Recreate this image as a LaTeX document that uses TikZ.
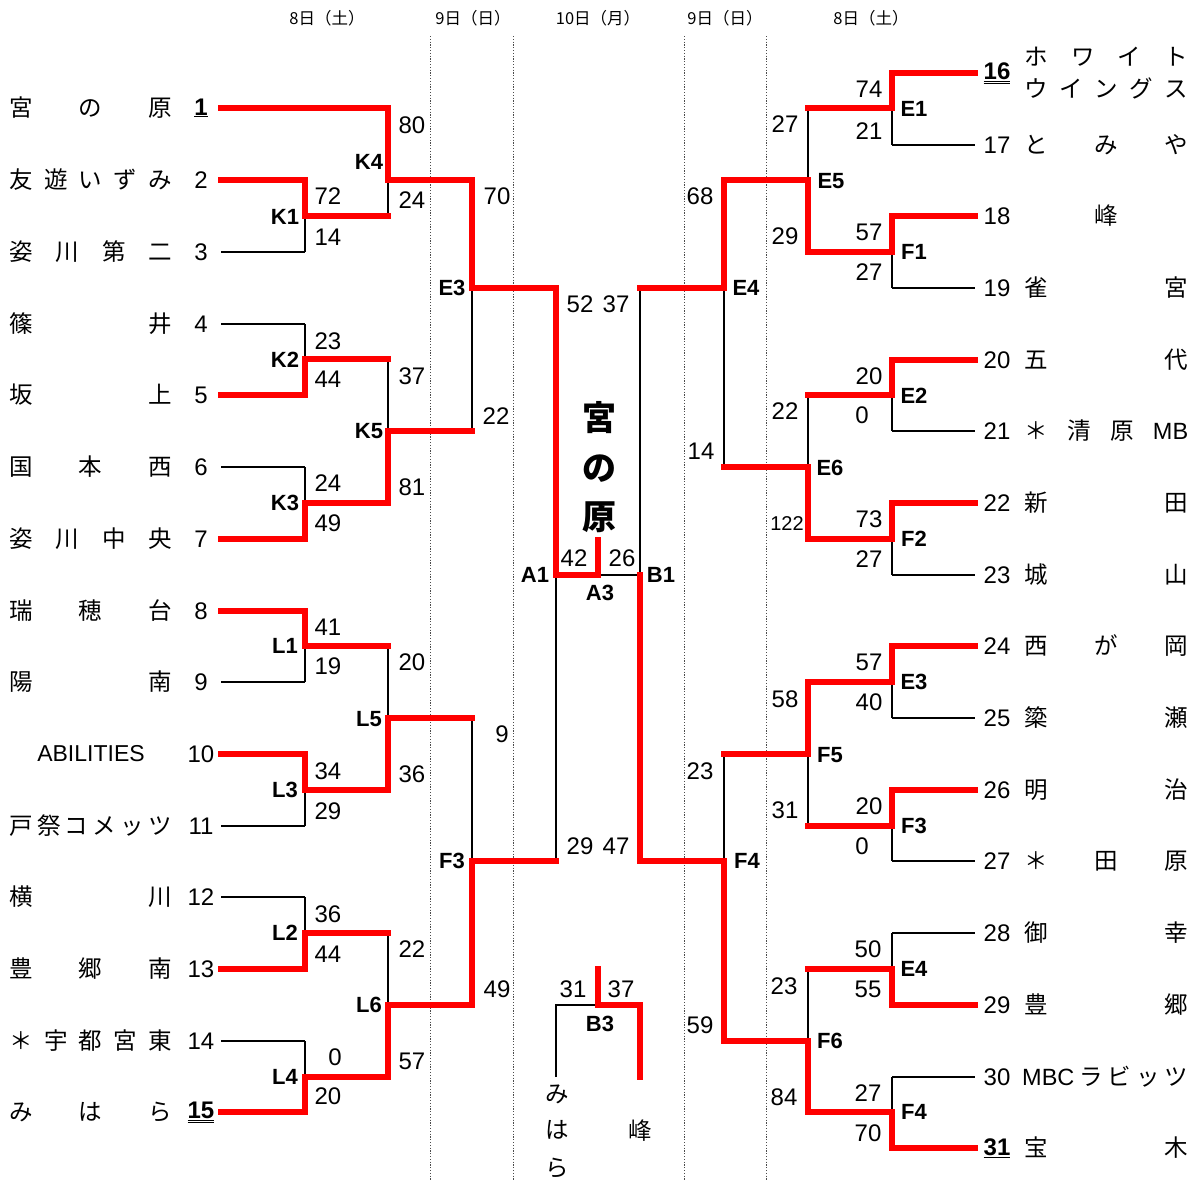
\documentclass[tikz,border=0pt]{standalone}
\usepackage{fontspec}
\setmainfont{Noto Sans CJK JP}
\newfontfamily\numf{Liberation Sans}
\begin{document}
\begin{tikzpicture}[x=1pt,y=-1pt,
  blk/.style={line width=2.5pt, black},
  win/.style={line width=5.5pt, red, line join=miter, line cap=rect},
  dotl/.style={line width=0.9pt, black!70, dash pattern=on 1.2pt off 1.6pt},
  sc/.style={font=\numf\fontsize{24}{24}\selectfont, inner sep=0pt},
  smsc/.style={font=\numf\fontsize{20}{20}\selectfont, inner sep=0pt},
  lb/.style={font=\numf\bfseries\fontsize{22}{22}\selectfont, inner sep=0pt},
  tn/.style={font=\fontsize{23.5}{23.5}\selectfont, inner sep=0pt},
  lat/.style={font=\numf\fontsize{23}{23}\selectfont, inner sep=0pt},
  hd/.style={font=\fontsize{16.5}{16.5}\selectfont, inner sep=0pt},
  big/.style={font=\bfseries\fontsize{34}{34}\selectfont, inner sep=0pt},
]
\useasboundingbox (0,0) rectangle (1195,1181);
\newcommand\lteam[3]{\node[tn,anchor=west] (lt#1) at (9,#2) {\hbox to 163pt{#3}};}
\newcommand\rteam[3]{\node[tn,anchor=west] (rt#1) at (1024,#2) {\hbox to 164pt{#3}};}
\newcommand\lnum[3]{\node[sc] (ln#1) at (201,#2) {#3};}
\newcommand\rnum[3]{\node[sc] (rn#1) at (997,#2) {#3};}

% headers
\node[hd] (h1) at (327,18) {8日（土）};
\node[hd] (h2) at (473,18) {9日（日）};
\node[hd] (h3) at (598,18) {10日（月）};
\node[hd] (h4) at (725,18) {9日（日）};
\node[hd] (h5) at (871,18) {8日（土）};

% dotted separators
\foreach \xx in {430,513,684,766} \draw[dotl] (\xx,36) -- (\xx,1181);

% ---------------- black bracket ----------------
\foreach \yy in {180,252,324,395,467,539,611,682,754,826,897,969,1041,1112}
  \draw[blk] (221,\yy) -- (305,\yy);
\draw[blk] (221,108) -- (388,108);
\foreach \a/\b in {180/252,324/395,467/539,611/682,754/826,897/969,1041/1112}{
  \draw[blk] (305,\a) -- (305,\b);
  \draw[blk] (305,{(\a+\b)/2}) -- (388,{(\a+\b)/2});
}
\draw[blk] (388,108) -- (388,216); \draw[blk] (388,180) -- (472,180);
\draw[blk] (388,359) -- (388,503); \draw[blk] (388,431) -- (472,431);
\draw[blk] (388,646) -- (388,790); \draw[blk] (388,718) -- (472,718);
\draw[blk] (388,933) -- (388,1077); \draw[blk] (388,1005) -- (472,1005);
\draw[blk] (472,180) -- (472,431); \draw[blk] (472,288) -- (556,288);
\draw[blk] (472,718) -- (472,1005); \draw[blk] (472,861) -- (556,861);
\draw[blk] (556,288) -- (556,861); \draw[blk] (556,575) -- (640,575);
\draw[blk] (640,288) -- (640,861);
% right
\foreach \yy in {73,145,216,288,360,431,503,575,646,718,790,861,933,1005,1077,1148}
  \draw[blk] (892,\yy) -- (975,\yy);
\foreach \a/\b in {73/145,216/288,360/431,503/575,646/718,790/861,933/1005,1077/1148}{
  \draw[blk] (892,\a) -- (892,\b);
  \draw[blk] (892,{(\a+\b)/2}) -- (808,{(\a+\b)/2});
}
\draw[blk] (808,108) -- (808,252); \draw[blk] (808,180) -- (724,180);
\draw[blk] (808,395) -- (808,539); \draw[blk] (808,467) -- (724,467);
\draw[blk] (808,682) -- (808,826); \draw[blk] (808,754) -- (724,754);
\draw[blk] (808,969) -- (808,1112); \draw[blk] (808,1041) -- (724,1041);
\draw[blk] (724,180) -- (724,467); \draw[blk] (724,288) -- (640,288);
\draw[blk] (724,754) -- (724,1041); \draw[blk] (724,861) -- (640,861);
% third place
\draw[blk] (556,1077) -- (556,1005) -- (640,1005) -- (640,1077);

% ---------------- winners (red) ----------------
\draw[win] (221,108) -| (388,180) -| (472,288) -| (556,575) -| (598,540);
\draw[win] (221,180) -| (305,216) -- (388,216);
\draw[win] (221,395) -| (305,359) -- (388,359);
\draw[win] (221,539) -| (305,503) -| (388,431) -- (472,431);
\draw[win] (221,611) -| (305,646) -- (388,646);
\draw[win] (221,754) -| (305,790) -| (388,718) -- (472,718);
\draw[win] (221,969) -| (305,933) -- (388,933);
\draw[win] (221,1112) -| (305,1077) -| (388,1005) -| (472,861) -- (556,861);
\draw[win] (975,73) -| (892,108) -- (808,108);
\draw[win] (975,216) -| (892,252) -| (808,180) -| (724,288) -- (640,288);
\draw[win] (975,360) -| (892,395) -- (808,395);
\draw[win] (975,503) -| (892,539) -| (808,467) -- (724,467);
\draw[win] (975,646) -| (892,682) -| (808,754) -- (724,754);
\draw[win] (975,790) -| (892,826) -- (808,826);
\draw[win] (975,1005) -| (892,969) -- (808,969);
\draw[win] (975,1148) -| (892,1112) -| (808,1041) -| (724,861) -| (640,575);
\draw[win] (598,969) |- (640,1005) -- (640,1077);

% ---------------- left teams ----------------
\lteam{1}{108}{宮\hfill の\hfill 原}
\lteam{2}{180}{友\hfill 遊\hfill い\hfill ず\hfill み}
\lteam{3}{252}{姿\hfill 川\hfill 第\hfill 二}
\lteam{4}{324}{篠\hfill 井}
\lteam{5}{395}{坂\hfill 上}
\lteam{6}{467}{国\hfill 本\hfill 西}
\lteam{7}{539}{姿\hfill 川\hfill 中\hfill 央}
\lteam{8}{611}{瑞\hfill 穂\hfill 台}
\lteam{9}{682}{陽\hfill 南}
\node[lat] (lt10) at (91,754) {ABILITIES};
\lteam{11}{826}{戸\hfill 祭\hfill コ\hfill メ\hfill ッ\hfill ツ}
\lteam{12}{897}{横\hfill 川}
\lteam{13}{969}{豊\hfill 郷\hfill 南}
\lteam{14}{1041}{＊\hfill 宇\hfill 都\hfill 宮\hfill 東}
\lteam{15}{1112}{み\hfill は\hfill ら}
\lnum{1}{108}{\bfseries\underline{1}}
\lnum{2}{180}{2} \lnum{3}{252}{3} \lnum{4}{324}{4} \lnum{5}{395}{5}
\lnum{6}{467}{6} \lnum{7}{539}{7} \lnum{8}{611}{8} \lnum{9}{682}{9}
\lnum{10}{754}{10} \lnum{11}{826}{11} \lnum{12}{897}{12} \lnum{13}{969}{13}
\lnum{14}{1041}{14}
\lnum{15}{1112}{\bfseries\underline{\underline{15}}}

% ---------------- right teams ----------------
\rteam{16a}{57}{ホ\hfill ワ\hfill イ\hfill ト}
\rteam{16b}{88}{ウ\hfill イ\hfill ン\hfill グ\hfill ス}
\rteam{17}{145}{と\hfill み\hfill や}
\rteam{18}{216}{\hfill 峰\hfill}
\rteam{19}{288}{雀\hfill 宮}
\rteam{20}{360}{五\hfill 代}
\rteam{21}{431}{＊\hfill 清\hfill 原\hfill {\numf MB}}
\rteam{22}{503}{新\hfill 田}
\rteam{23}{575}{城\hfill 山}
\rteam{24}{646}{西\hfill が\hfill 岡}
\rteam{25}{718}{簗\hfill 瀬}
\rteam{26}{790}{明\hfill 治}
\rteam{27}{861}{＊\hfill 田\hfill 原}
\rteam{28}{933}{御\hfill 幸}
\rteam{29}{1005}{豊\hfill 郷}
\node[tn,anchor=west] (rt30) at (1022,1077) {\hbox to 166pt{{\numf MBC}\hfill ラ\hfill ビ\hfill ッ\hfill ツ}};
\rteam{31}{1148}{宝\hfill 木}
\rnum{16}{73}{\bfseries\underline{\underline{16}}}
\rnum{17}{145}{17} \rnum{18}{216}{18} \rnum{19}{288}{19} \rnum{20}{360}{20}
\rnum{21}{431}{21} \rnum{22}{503}{22} \rnum{23}{575}{23} \rnum{24}{646}{24}
\rnum{25}{718}{25} \rnum{26}{790}{26} \rnum{27}{861}{27} \rnum{28}{933}{28}
\rnum{29}{1005}{29} \rnum{30}{1077}{30}
\rnum{31}{1148}{\bfseries\underline{31}}

% ---------------- left scores and labels ----------------
\node[sc] (s1) at (412,125) {80};  \node[sc] (s2) at (412,200) {24};  \node[lb] (k4) at (369,162) {K4};
\node[sc] (s3) at (328,196) {72};  \node[sc] (s4) at (328,237) {14};  \node[lb] (k1) at (285,217) {K1};
\node[sc] (s5) at (497,196) {70};  \node[sc] (s6) at (496,416) {22};  \node[lb] (e3l) at (452,288) {E3};
\node[sc] (s7) at (328,341) {23};  \node[sc] (s8) at (328,379) {44};  \node[lb] (k2) at (285,360) {K2};
\node[sc] (s9) at (412,376) {37};  \node[sc] (s10) at (412,487) {81}; \node[lb] (k5) at (369,431) {K5};
\node[sc] (s11) at (328,483) {24}; \node[sc] (s12) at (328,523) {49}; \node[lb] (k3) at (285,503) {K3};
\node[sc] (s13) at (328,627) {41}; \node[sc] (s14) at (328,666) {19}; \node[lb] (l1) at (285,646) {L1};
\node[sc] (s15) at (412,662) {20}; \node[sc] (s16) at (412,774) {36}; \node[lb] (l5) at (369,719) {L5};
\node[sc] (s17) at (328,771) {34}; \node[sc] (s18) at (328,811) {29}; \node[lb] (l3) at (285,790) {L3};
\node[sc] (s19) at (502,734) {9};  \node[sc] (s20) at (497,989) {49}; \node[lb] (f3l) at (452,861) {F3};
\node[sc] (s21) at (328,914) {36}; \node[sc] (s22) at (328,954) {44}; \node[lb] (l2) at (285,933) {L2};
\node[sc] (s23) at (412,949) {22}; \node[sc] (s24) at (412,1061) {57}; \node[lb] (l6) at (369,1005) {L6};
\node[sc] (s25) at (335,1057) {0}; \node[sc] (s26) at (328,1096) {20}; \node[lb] (l4) at (285,1077) {L4};

% ---------------- center ----------------
\node[sc] (c1) at (580,304) {52}; \node[sc] (c2) at (616,304) {37};
\node[sc] (c3) at (580,846) {29}; \node[sc] (c4) at (616,846) {47};
\node[sc] (c5) at (574,558) {42}; \node[sc] (c6) at (622,558) {26};
\node[lb] (a1) at (535,575) {A1}; \node[lb] (a3) at (600,593) {A3}; \node[lb] (b1) at (661,575) {B1};
\node[big] (w1) at (599,418) {宮};
\node[big] (w2) at (599,469) {の};
\node[big] (w3) at (599,517) {原};
\node[sc] (c7) at (573,989) {31}; \node[sc] (c8) at (621,989) {37};
\node[lb] (b3) at (600,1024) {B3};
\node[tn] (m1) at (557,1094) {み};
\node[tn] (m2) at (557,1130) {は};
\node[tn] (m3) at (557,1168) {ら};
\node[tn] (m4) at (640,1131) {峰};

% ---------------- right scores and labels ----------------
\node[sc] (r1) at (869,89) {74};   \node[sc] (r2) at (869,131) {21};  \node[lb] (e1) at (914,109) {E1};
\node[sc] (r3) at (785,124) {27};  \node[sc] (r4) at (785,236) {29};  \node[lb] (e5) at (831,181) {E5};
\node[sc] (r5) at (869,232) {57};  \node[sc] (r6) at (869,272) {27};  \node[lb] (f1) at (914,252) {F1};
\node[sc] (r7) at (700,196) {68};  \node[sc] (r8) at (701,451) {14};  \node[lb] (e4) at (746,288) {E4};
\node[sc] (r9) at (869,376) {20};  \node[sc] (r10) at (862,415) {0};  \node[lb] (e2) at (914,396) {E2};
\node[sc] (r11) at (785,411) {22}; \node[smsc] (r12) at (787,524) {122}; \node[lb] (e6) at (830,468) {E6};
\node[sc] (r13) at (869,519) {73}; \node[sc] (r14) at (869,559) {27}; \node[lb] (f2) at (914,539) {F2};
\node[sc] (r15) at (869,662) {57}; \node[sc] (r16) at (869,702) {40}; \node[lb] (e3r) at (914,682) {E3};
\node[sc] (r17) at (785,699) {58}; \node[sc] (r18) at (785,810) {31}; \node[lb] (f5) at (830,755) {F5};
\node[sc] (r19) at (869,806) {20}; \node[sc] (r20) at (862,846) {0};  \node[lb] (f3r) at (914,826) {F3};
\node[sc] (r21) at (700,771) {23}; \node[sc] (r22) at (700,1025) {59}; \node[lb] (f4) at (747,861) {F4};
\node[sc] (r23) at (868,949) {50}; \node[sc] (r24) at (868,989) {55}; \node[lb] (e4r) at (914,969) {E4};
\node[sc] (r25) at (784,986) {23}; \node[sc] (r26) at (784,1097) {84}; \node[lb] (f6) at (830,1041) {F6};
\node[sc] (r27) at (868,1093) {27}; \node[sc] (r28) at (868,1133) {70}; \node[lb] (f4r) at (914,1112) {F4};
\end{tikzpicture}
\end{document}
